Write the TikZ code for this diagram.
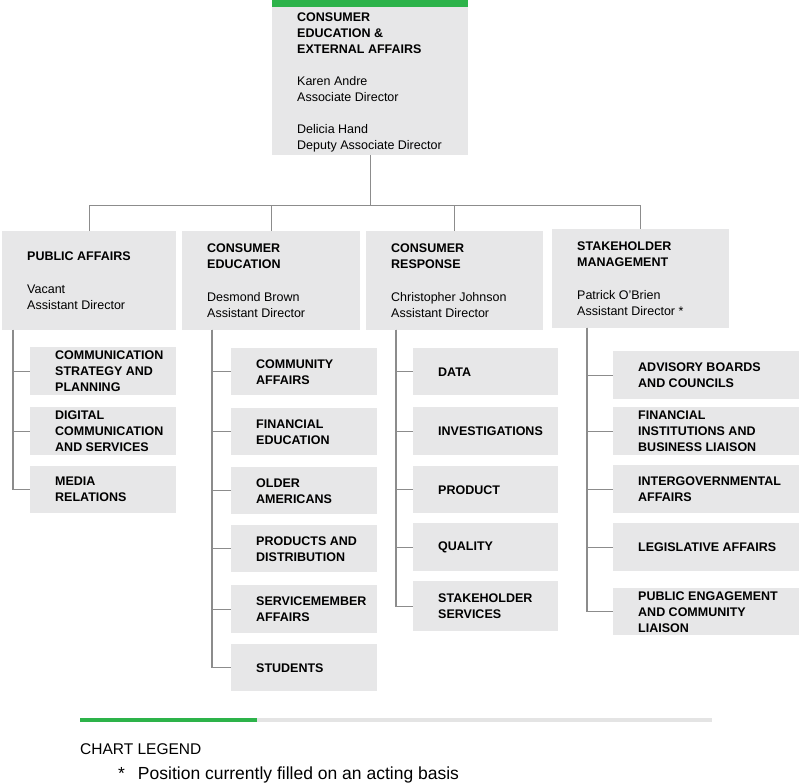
\documentclass[tikz,border=0pt]{standalone}
\usepackage{fontspec}
\setmainfont{Liberation Sans}
\usetikzlibrary{calc}
\definecolor{BoxClr}{RGB}{231,231,232}
\definecolor{LinkClr}{RGB}{140,140,140}
\definecolor{BarClr}{RGB}{45,179,74}
\definecolor{RuleClr}{RGB}{228,228,228}

\tikzset{
  unitbox/.style={fill=BoxClr,inner sep=0pt,anchor=north west},
  unittext/.style={anchor=west,align=left,inner sep=0pt,font=\fontsize{12.5}{16}\selectfont},
  subtext/.style={unittext,font=\fontsize{12.5}{16}\selectfont\bfseries},
  link/.style={draw=LinkClr,line width=1.1pt},
}
% name, x, y, width, height, style, text
\newcommand{\unitnode}[7]{%
  \node[unitbox,minimum width=#4pt,minimum height=#5pt] (#1) at (#2,#3) {};
  \node[#6] (#1t) at ([xshift=25pt]#1.west) {#7};
}

\begin{document}
\begin{tikzpicture}[x=1pt,y=-1pt]
\useasboundingbox (0,0) rectangle (800,783);

\unitnode{cea}{272}{0}{196}{155}{unittext,yshift=-5pt}{\textbf{CONSUMER}\\\textbf{EDUCATION \&}\\\textbf{EXTERNAL AFFAIRS}\\[16pt]Karen Andre\\Associate Director\\[16pt]Delicia Hand\\Deputy Associate Director}
\fill[BarClr] (cea.north west) rectangle ([yshift=-7pt]cea.north east);

\unitnode{pa}{2}{231}{174}{99}{unittext}{\textbf{PUBLIC AFFAIRS}\\[17pt]Vacant\\Assistant Director}
\unitnode{ce}{182}{231}{178}{99}{unittext}{\textbf{CONSUMER}\\\textbf{EDUCATION}\\[17pt]Desmond Brown\\Assistant Director}
\unitnode{cr}{366}{231}{177}{99}{unittext}{\textbf{CONSUMER}\\\textbf{RESPONSE}\\[17pt]Christopher Johnson\\Assistant Director}
\unitnode{sm}{552}{229}{177}{99}{unittext}{\textbf{STAKEHOLDER}\\\textbf{MANAGEMENT}\\[17pt]Patrick O'Brien\\Assistant Director *}

% public affairs
\unitnode{pa1}{30}{347}{146}{48}{subtext}{COMMUNICATION\\STRATEGY AND\\PLANNING}
\unitnode{pa2}{30}{407}{146}{48}{subtext}{DIGITAL\\COMMUNICATION\\AND SERVICES}
\unitnode{pa3}{30}{466}{146}{47}{subtext}{MEDIA\\RELATIONS}

% consumer education
\unitnode{ce1}{231}{348}{146}{47}{subtext}{COMMUNITY\\AFFAIRS}
\unitnode{ce2}{231}{408}{146}{47}{subtext}{FINANCIAL\\EDUCATION}
\unitnode{ce3}{231}{467}{146}{47}{subtext}{OLDER\\AMERICANS}
\unitnode{ce4}{231}{525}{146}{47}{subtext}{PRODUCTS AND\\DISTRIBUTION}
\unitnode{ce5}{231}{585}{146}{48}{subtext}{SERVICEMEMBER\\AFFAIRS}
\unitnode{ce6}{231}{644}{146}{47}{subtext}{STUDENTS}

% consumer response
\unitnode{cr1}{413}{348}{145}{47}{subtext}{DATA}
\unitnode{cr2}{413}{407}{145}{48}{subtext}{INVESTIGATIONS}
\unitnode{cr3}{413}{466}{145}{47}{subtext}{PRODUCT}
\unitnode{cr4}{413}{523}{145}{48}{subtext}{QUALITY}
\unitnode{cr5}{413}{581}{145}{50}{subtext}{STAKEHOLDER\\SERVICES}

% stakeholder management
\unitnode{sm1}{613}{351}{186}{48}{subtext}{ADVISORY BOARDS\\AND COUNCILS}
\unitnode{sm2}{613}{407}{186}{48}{subtext}{FINANCIAL\\INSTITUTIONS AND\\BUSINESS LIAISON}
\unitnode{sm3}{613}{465}{186}{48}{subtext}{INTERGOVERNMENTAL\\AFFAIRS}
\unitnode{sm4}{613}{523}{186}{48}{subtext}{LEGISLATIVE AFFAIRS}
\unitnode{sm5}{613}{588}{186}{47}{subtext}{PUBLIC ENGAGEMENT\\AND COMMUNITY\\LIAISON}

% connectors
\draw[link] (cea.south) -- ++(0,50) coordinate (bus);
\draw[link] (pa.north) |- (bus) -| (sm.north);
\draw[link] (ce.north) -- (ce.north |- bus);
\draw[link] (cr.north) -- (cr.north |- bus);

\coordinate (pa-s) at (13,330);
\coordinate (ce-s) at (212,330);
\coordinate (cr-s) at (396,330);
\coordinate (sm-s) at (587,328);
\foreach \i in {1,2,3} \draw[link] (pa-s) |- (pa\i.west);
\foreach \i in {1,...,6} \draw[link] (ce-s) |- (ce\i.west);
\foreach \i in {1,...,5} \draw[link] (cr-s) |- (cr\i.west);
\foreach \i in {1,...,5} \draw[link] (sm-s) |- (sm\i.west);

% legend
\draw[RuleClr,line width=4pt] (257,720) -- (712,720);
\draw[BarClr,line width=4pt] (80,720) -- (257,720);
\node[anchor=base west,inner sep=0pt,font=\fontsize{15.5}{18}\selectfont] (legend) at (80,754) {CHART LEGEND};
\node[anchor=base west,inner sep=0pt,font=\fontsize{17.5}{20}\selectfont] (acting) at (118,779) {*\hspace{13pt}Position currently filled on an acting basis};

\end{tikzpicture}
\end{document}
